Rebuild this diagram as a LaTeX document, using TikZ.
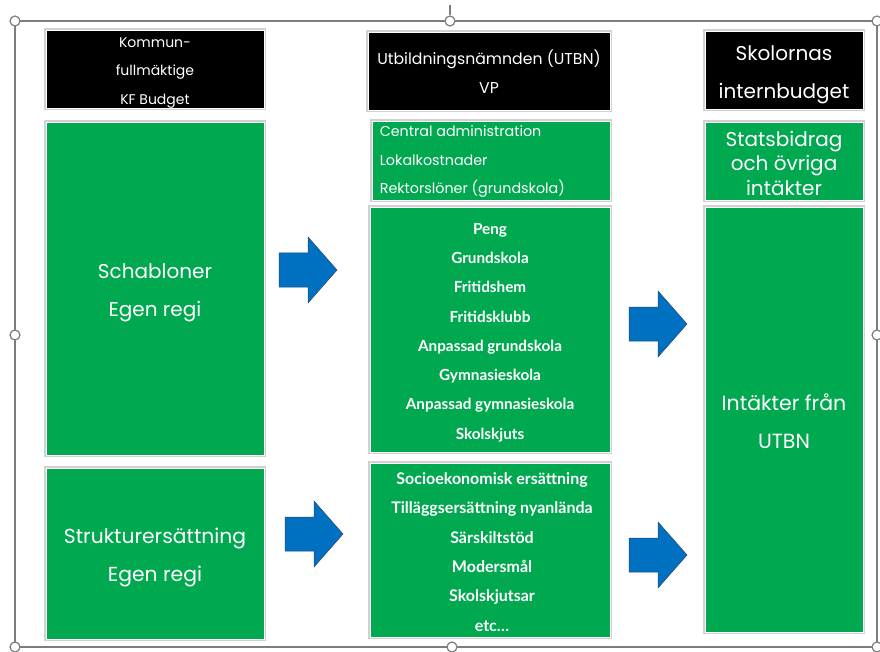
\documentclass[tikz,border=0pt]{standalone}
\usepackage{fontspec}
\newfontfamily\geo{Poppins}
\newfontfamily\hum{Lato}
\definecolor{boxgreen}{RGB}{0,168,80}
\definecolor{arrowblue}{RGB}{0,112,192}
\definecolor{arrowedge}{RGB}{40,70,120}
\definecolor{framegray}{RGB}{125,125,125}
\tikzset{
  box/.style={rectangle, inner sep=0pt, draw=white, line width=0.8pt,
    preaction={draw=black!18, line width=3.5pt}},
  blackbox/.style={box, fill=black},
  greenbox/.style={box, fill=boxgreen},
  txt/.style={inner sep=0pt, text=white, align=center},
  handle/.style={circle, draw=framegray, fill=white, line width=1.2pt, minimum size=10pt, inner sep=0pt},
  barrow/.pic={
    \path[fill=arrowblue, draw=arrowedge, line width=0.5pt]
      (0,-17) -- (29,-17) -- (29,-33) -- (58,0) -- (29,33) -- (29,17) -- (0,17) -- cycle;
    \coordinate (tip) at (58,0);
    \coordinate (tail) at (0,0);
  }
}
\begin{document}
\begin{tikzpicture}[x=1pt,y=-1pt]
\useasboundingbox (0,0) rectangle (880,652);
% selection frame
\coordinate (ftl) at (15,21);
\coordinate (fbr) at (877,647);
\draw[framegray, line width=1.2pt] (ftl) rectangle (fbr);
\coordinate (rot) at (450,5);
\node[handle] (htc) at (450,21) {};
\draw[framegray, line width=1.2pt] (rot) -- (htc.north);
\node[handle] (htl) at (15,21) {};
\node[handle] (htr) at (877,21) {};
\node[handle] (hml) at (15,335) {};
\node[handle] (hmr) at (877,335) {};
\node[handle] (hbl) at (15,647) {};
\node[handle] (hbc) at (452,647) {};
\node[handle] (hbr) at (877,647) {};

% column 1
\node[blackbox, minimum width=218pt, minimum height=78pt] (kf) at (155,69) {};
\node[txt, font=\geo\fontsize{14}{28.5}\selectfont, yshift=-4pt] (kft) at (kf) {Kommun-\\fullmäktige\\KF Budget};
\node[greenbox, minimum width=218pt, minimum height=333pt] (schab) at (155,288.5) {};
\node[txt, font=\geo\fontsize{20}{38}\selectfont, yshift=-4pt] (schabt) at (schab) {Schabloner\\Egen regi};
\node[greenbox, minimum width=218pt, minimum height=171pt] (strukt) at (155,553.5) {};
\node[txt, font=\geo\fontsize{20.3}{38}\selectfont, yshift=-4pt] (struktt) at (strukt) {Strukturersättning\\Egen regi};

% column 2
\node[blackbox, minimum width=242pt, minimum height=78pt] (utbn) at (489,71) {};
\node[txt, font=\geo\fontsize{15.7}{29}\selectfont, yshift=-1pt] (utbnt) at (utbn) {Utbildningsnämnden (UTBN)\\VP};
\node[greenbox, minimum width=238pt, minimum height=79pt] (central) at (491,160.5) {};
\node[txt, align=left, anchor=west, font=\geo\fontsize{14.3}{28.5}\selectfont, yshift=-1pt] (centralt) at ([xshift=8pt]central.west) {Central administration\\Lokalkostnader\\Rektorslöner (grundskola)};
\node[greenbox, minimum width=240pt, minimum height=245pt] (peng) at (490,329.5) {};
\node[txt, font=\hum\bfseries\fontsize{15.3}{29.3}\selectfont, yshift=-3pt] (pengt) at (peng) {Peng\\Grundskola\\Fritidshem\\Fritidsklubb\\Anpassad grundskola\\Gymnasieskola\\Anpassad gymnasieskola\\Skolskjuts};
\node[greenbox, minimum width=240pt, minimum height=174pt] (socio) at (490,550) {};
\node[txt, font=\hum\bfseries\fontsize{16}{29.4}\selectfont, yshift=-2pt] (sociot) at ([xshift=2pt]socio) {Socioekonomisk ersättning\\Tilläggsersättning nyanlända\\Särskiltstöd\\Modersmål\\Skolskjutsar\\etc\dots};

% column 3
\node[blackbox, minimum width=158pt, minimum height=78pt] (skol) at (784,70) {};
\node[txt, font=\geo\fontsize{20}{38}\selectfont, yshift=-5pt] (skolt) at (skol) {Skolornas\\internbudget};
\node[greenbox, minimum width=158pt, minimum height=78pt] (stats) at (784,161) {};
\node[txt, font=\geo\fontsize{20}{24.5}\selectfont, yshift=-2pt] (statst) at (stats) {Statsbidrag\\och övriga\\intäkter};
\node[greenbox, minimum width=158pt, minimum height=425pt] (intakt) at (784,419.5) {};
\node[txt, font=\geo\fontsize{20.5}{38}\selectfont, yshift=-2pt] (intaktt) at (intakt) {Intäkter från\\UTBN};

% block arrows
\pic (a1) at (279,270) {barrow};
\pic (a2) at (285,534) {barrow};
\pic (a3) at (629,324) {barrow};
\pic (a4) at (629,555) {barrow};
\end{tikzpicture}
\end{document}
